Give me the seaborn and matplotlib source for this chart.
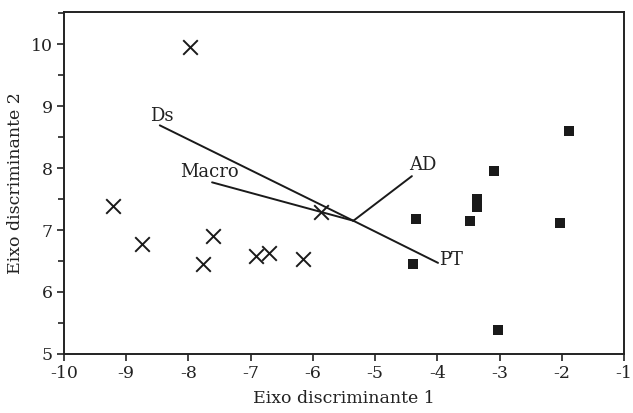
import matplotlib
matplotlib.use("Agg")
import matplotlib.pyplot as plt
from matplotlib.ticker import MultipleLocator
import seaborn as sns
import pandas as pd

# group 1 (crosses)
cross_x = [-7.97, -9.21, -8.75, -7.77, -7.60, -6.91, -6.70, -6.16, -5.87]
cross_y = [9.95, 7.39, 6.77, 6.45, 6.90, 6.58, 6.63, 6.53, 7.29]

# group 2 (squares)
square_x = [-1.88, -3.09, -3.36, -3.36, -4.34, -3.47, -2.03, -4.39, -3.02]
square_y = [8.60, 7.95, 7.50, 7.37, 7.18, 7.15, 7.11, 6.45, 5.39]

# variable vectors (biplot)
vec_names = ["Ds", "Macro", "AD", "PT"]
vec_origin = (-5.35, 7.15)
vec_end_x = [-8.46, -7.62, -4.41, -3.99]
vec_end_y = [8.69, 7.77, 7.87, 6.47]
label_x = [-8.62, -8.14, -4.45, -3.97]
label_y = [8.84, 7.94, 8.05, 6.52]

sns.set_style("ticks")
plt.rcParams['font.family'] = ['DejaVu Serif']
plt.rcParams['axes.unicode_minus'] = False

fig, ax = plt.subplots(figsize=(6.33, 4.13), dpi=100)
fig.subplots_adjust(left=0.101, right=0.986, top=0.971, bottom=0.143)

df_c = pd.DataFrame({"x": cross_x, "y": cross_y})
df_s = pd.DataFrame({"x": square_x, "y": square_y})
sns.scatterplot(data=df_c, x="x", y="y", marker="x", s=110, color="#1a1a1a",
                linewidth=1.4, ax=ax)
sns.scatterplot(data=df_s, x="x", y="y", marker="s", s=45, color="#1a1a1a",
                linewidth=0, ax=ax)

for name, ex, ey, lx, ly in zip(vec_names, vec_end_x, vec_end_y, label_x, label_y):
    ax.plot([vec_origin[0], ex], [vec_origin[1], ey], color="#1a1a1a", lw=1.4)
    ax.text(lx, ly, name, fontsize=13, va="center", ha="left", color="#222222")

ax.set_xlim(-10, -1)
ax.set_ylim(5, 10.52)
ax.xaxis.set_major_locator(MultipleLocator(1))
ax.yaxis.set_major_locator(MultipleLocator(1))
ax.yaxis.set_minor_locator(MultipleLocator(0.5))
ax.tick_params(which="both", direction="out", width=1.2, color="#222222",
               labelsize=12.5, labelcolor="#222222")
ax.tick_params(which="major", length=5, pad=3)
ax.tick_params(which="minor", length=4)

for sp in ax.spines.values():
    sp.set_visible(True)
    sp.set_linewidth(1.4)
    sp.set_color("#222222")

ax.set_xlabel("Eixo discriminante 1", fontsize=12.5, color="#222222", labelpad=6)
ax.set_ylabel("Eixo discriminante 2", fontsize=12.5, color="#222222", labelpad=10)
ax.yaxis.set_label_coords(-0.072, 0.5)

fig.savefig("out.png", dpi=100)
